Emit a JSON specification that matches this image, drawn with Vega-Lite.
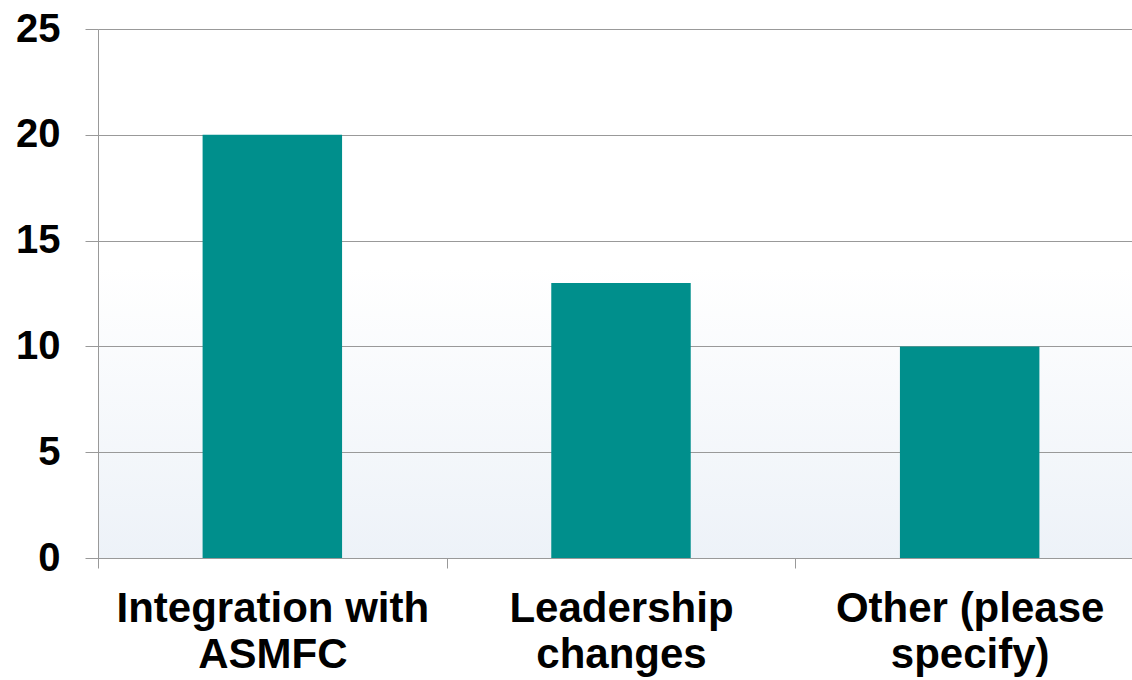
{
  "$schema": "https://vega.github.io/schema/vega-lite/v6.json",
  "width": 1046,
  "height": 529,
  "autosize": "none",
  "padding": {"left": 98, "top": 29, "right": 0, "bottom": 122},
  "background": "#ffffff",
  "config": {
    "view": {
      "stroke": null,
      "fill": {
        "gradient": "linear",
        "x1": 0, "y1": 0, "x2": 0, "y2": 1,
        "stops": [
          {"offset": 0, "color": "#ffffff"},
          {"offset": 0.45, "color": "#ffffff"},
          {"offset": 1, "color": "#edf2f8"}
        ]
      }
    },
    "font": "Liberation Sans"
  },
  "data": {
    "values": [
      {"category": "Integration with ASMFC", "value": 20},
      {"category": "Leadership changes", "value": 13},
      {"category": "Other (please specify)", "value": 10}
    ]
  },
  "mark": {"type": "bar", "color": "#008F8C", "width": {"band": 0.4}},
  "encoding": {
    "x": {
      "field": "category",
      "type": "nominal",
      "sort": null,
      "scale": {"paddingInner": 0, "paddingOuter": 0},
      "axis": {
        "title": null,
        "labelAngle": 0,
        "labelFont": "Liberation Sans",
        "labelFontWeight": "bold",
        "labelFontSize": 42,
        "labelColor": "#000000",
        "labelLineHeight": 46,
        "labelPadding": 20,
        "labelLimit": 0,
        "labelExpr": "datum.label == 'Integration with ASMFC' ? ['Integration with', 'ASMFC'] : datum.label == 'Leadership changes' ? ['Leadership', 'changes'] : datum.label == 'Other (please specify)' ? ['Other (please', 'specify)'] : ''",
        "tickBand": "extent",
        "tickSize": 10,
        "tickColor": "#999999",
        "domainColor": "#999999",
        "grid": false
      }
    },
    "y": {
      "field": "value",
      "type": "quantitative",
      "scale": {"domain": [0, 25], "nice": false},
      "axis": {
        "title": null,
        "values": [0, 5, 10, 15, 20, 25],
        "labelFont": "Liberation Sans",
        "labelFontWeight": "bold",
        "labelFontSize": 40,
        "labelColor": "#000000",
        "labelPadding": 25,
        "tickSize": 13,
        "tickColor": "#999999",
        "domainColor": "#999999",
        "grid": true,
        "gridColor": "#999999",
        "gridOpacity": 1
      }
    }
  }
}
